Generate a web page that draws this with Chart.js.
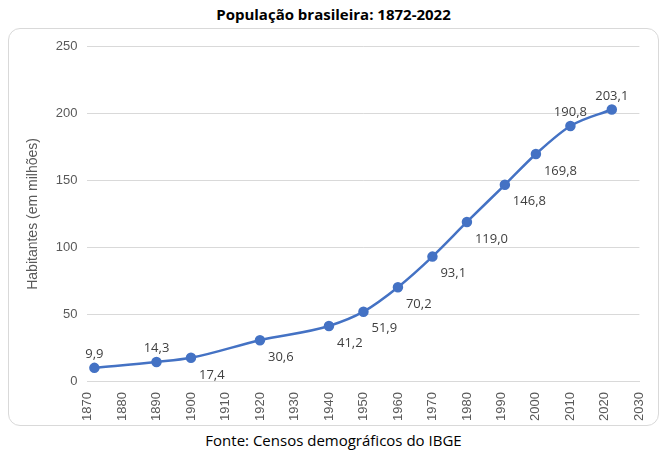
<!DOCTYPE html>
<html><head><meta charset="utf-8">
<script src="https://cdn.jsdelivr.net/npm/chart.js@4"></script>
<style>
body{margin:0;width:667px;height:452px;background:#fff;font-family:"Open Sans","Noto Sans",sans-serif;position:relative;overflow:hidden}
#title{position:absolute;top:4px;left:0;width:667px;text-align:center;font-weight:bold;font-size:15px;color:#000}
#box{position:absolute;left:8px;top:28px;width:649px;height:396px;border:1px solid #d9d9d9;border-radius:12px}
#foot{position:absolute;top:430px;left:0;width:667px;text-align:center;font-size:15px;color:#000}
</style></head><body>
<div id="title">População brasileira: 1872-2022</div>
<div id="box"><canvas id="c" width="649" height="396"></canvas></div>
<div id="foot">Fonte: Censos demográficos do IBGE</div>
<script>
var years=[1872,1890,1900,1920,1940,1950,1960,1970,1980,1991,2000,2010,2022];
var pop=[9.9,14.3,17.4,30.6,41.2,51.9,70.2,93.1,119.0,146.8,169.8,190.8,203.1];
var above=[0,1,11,12];

var labelPlugin={
  id:'lbl',
  afterDatasetsDraw:function(chart){
    var ctx=chart.ctx, meta=chart.getDatasetMeta(0);
    ctx.save();
    ctx.font='13px "Open Sans", sans-serif';
    ctx.fillStyle='#404040';
    meta.data.forEach(function(p,i){
      var t=pop[i].toFixed(1).replace('.',',');
      if(above.indexOf(i)>=0){ctx.textAlign='center';ctx.textBaseline='bottom';ctx.fillText(t,p.x,p.y-7);}
      else{ctx.textAlign='left';ctx.textBaseline='middle';ctx.fillText(t,p.x+8,p.y+17);}
    });
    ctx.restore();
  }
};

new Chart(document.getElementById('c'),{
  type:'scatter',
  data:{datasets:[{
    data:years.map(function(y,i){return {x:y,y:pop[i]};}),
    showLine:true,tension:0.4,cubicInterpolationMode:'monotone',
    borderColor:'#4472C4',backgroundColor:'#4472C4',borderWidth:2.5,
    pointRadius:4,pointHoverRadius:4
  }]},
  options:{
    responsive:false,animation:false,
    layout:{padding:{left:12,right:3,top:12,bottom:1}},
    plugins:{legend:{display:false},tooltip:{enabled:false}},
    scales:{
      x:{type:'linear',min:1870,max:2030,
        ticks:{stepSize:10,maxRotation:90,minRotation:90,color:'#595959',font:{size:13},callback:function(v){return v;}},
        grid:{display:false,drawTicks:true},border:{color:'#d9d9d9'}},
      y:{min:0,max:250,
        ticks:{stepSize:50,color:'#595959',font:{size:13},padding:10},
        grid:{color:'#d9d9d9',drawTicks:false},border:{display:false},
        title:{display:true,text:'Habitantes (em milhões)',color:'#595959',font:{size:14}}}
    }
  },
  plugins:[labelPlugin]
});
</script>
</body></html>
